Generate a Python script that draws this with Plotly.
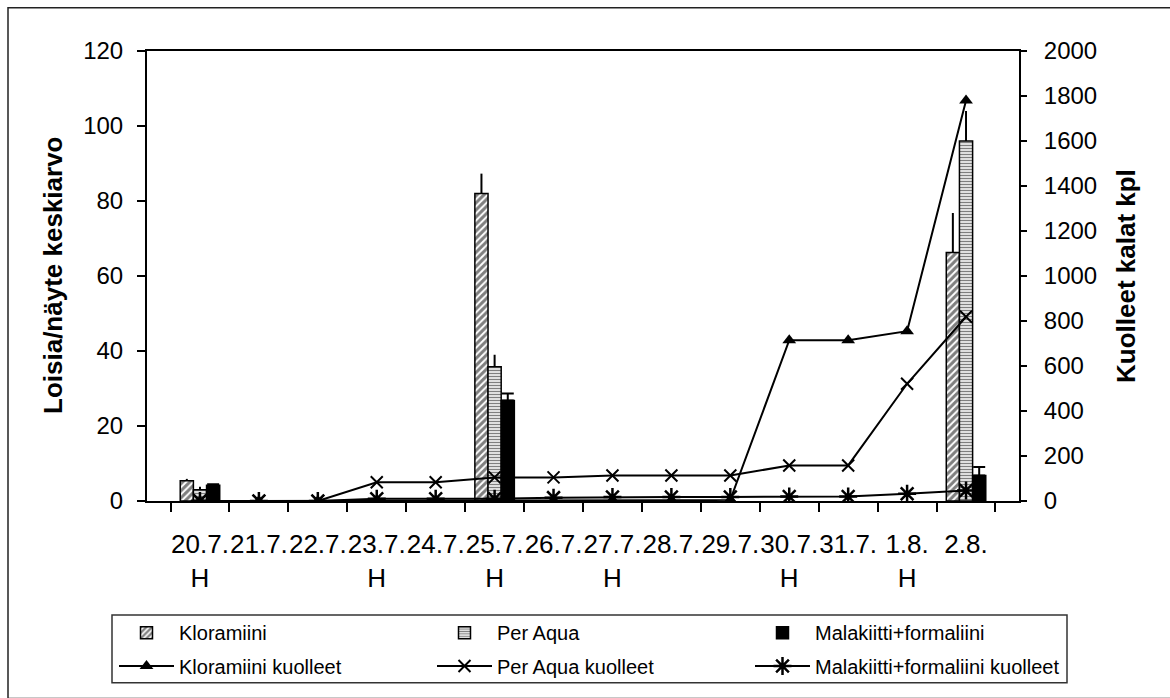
import plotly.graph_objects as go

categories = ["20.7.<br>H", "21.7.", "22.7.", "23.7.<br>H", "24.7.", "25.7.<br>H", "26.7.",
              "27.7.<br>H", "28.7.", "29.7.", "30.7.<br>H", "31.7.", "1.8.<br>H", "2.8."]

klor = [5.4, None, None, None, None, 82, None, None, None, None, None, None, None, 66.3]
klor_err = [0.5, 0, 0, 0, 0, 5.3, 0, 0, 0, 0, 0, 0, 0, 10.5]
peraqua = [3.0, None, None, None, None, 35.8, None, None, None, None, None, None, None, 96]
peraqua_err = [0.8, 0, 0, 0, 0, 3.2, 0, 0, 0, 0, 0, 0, 0, 8]
mala = [4.2, None, None, None, None, 26.8, None, None, None, None, None, None, None, 6.8]
mala_err = [0.3, 0, 0, 0, 0, 1.9, 0, 0, 0, 0, 0, 0, 0, 2.3]

klor_dead = [0, 0, 0, 2, 2, 3, 3, 3, 3, 5, 715, 715, 755, 1780]
peraqua_dead = [0, 0, 0, 83, 83, 105, 105, 113, 113, 113, 158, 158, 521, 819]
mala_dead = [0, 0, 0, 10, 10, 10, 15, 18, 18, 18, 20, 20, 32, 47]

FONT = "Liberation Sans, Arial, sans-serif"
zeros = [0] * len(categories)

fig = go.Figure()

def err(arr, cap):
    return dict(type="data", symmetric=False, array=arr, arrayminus=zeros,
                color="black", thickness=2, width=cap)

fig.add_trace(go.Bar(name="Kloramiini", x=categories, y=klor, yaxis="y", legend="legend",
                     marker=dict(color="white", line=dict(color="black", width=1.5),
                                 pattern=dict(shape="/", fgcolor="black", bgcolor="white",
                                              size=5, solidity=0.6)),
                     error_y=err(klor_err, 0)))
fig.add_trace(go.Bar(name="Per Aqua", x=categories, y=peraqua, yaxis="y", legend="legend",
                     marker=dict(color="white", line=dict(color="black", width=1.5),
                                 pattern=dict(shape="-", fgcolor="black", bgcolor="white",
                                              size=3, solidity=0.5)),
                     error_y=err(peraqua_err, 0)))
fig.add_trace(go.Bar(name="Malakiitti+formaliini", x=categories, y=mala, yaxis="y", legend="legend",
                     marker=dict(color="black", line=dict(color="black", width=1.5)),
                     error_y=err(mala_err, 6)))

fig.add_trace(go.Scatter(name="Kloramiini kuolleet", x=categories, y=klor_dead, yaxis="y2",
                         legend="legend2", mode="lines+markers", line=dict(color="black", width=2),
                         marker=dict(symbol="triangle-up", size=12, color="black")))
fig.add_trace(go.Scatter(name="Per Aqua kuolleet", x=categories, y=peraqua_dead, yaxis="y2",
                         legend="legend2", mode="lines+markers", line=dict(color="black", width=2),
                         marker=dict(symbol="x-thin-open", size=12, color="black",
                                     line=dict(color="black", width=2))))
fig.add_trace(go.Scatter(name="Malakiitti+formaliini kuolleet", x=categories, y=mala_dead, yaxis="y2",
                         legend="legend2", mode="lines+markers", line=dict(color="black", width=2),
                         marker=dict(symbol="asterisk-open", size=15, color="black",
                                     line=dict(color="black", width=2.5))))

L, R, T, B = 147, 151, 51, 189
W, H = 1170, 698
pw, ph = W - L - R, H - T - B

def px(x):
    return (x - L) / pw

def py(y):
    return (H - B - y) / ph

leg_common = dict(orientation="h", xanchor="left", yanchor="middle",
                  bgcolor="rgba(0,0,0,0)", borderwidth=0,
                  font=dict(family=FONT, size=20, color="black"),
                  entrywidth=248, entrywidthmode="pixels", itemwidth=55, tracegroupgap=0)

fig.update_layout(
    width=W, height=H,
    margin=dict(l=L, r=R, t=T, b=B, pad=0),
    paper_bgcolor="white", plot_bgcolor="white",
    font=dict(family=FONT, color="black", size=24),
    barmode="group", bargap=0.33, bargroupgap=0,
    showlegend=True,
    legend=dict(x=px(114), y=py(643), **leg_common),
    legend2=dict(x=px(114), y=py(677), **leg_common),
    xaxis=dict(type="category", tickson="boundaries", ticks="outside", ticklen=9,
               tickwidth=1.5, tickcolor="black", showline=True, linecolor="black",
               linewidth=2, mirror=True, showgrid=False, zeroline=False, tickangle=0,
               tickfont=dict(family=FONT, size=26, color="black"),
               ticklabelstandoff=19),
    xaxis2=dict(overlaying="x", range=[-0.5, 13.5], tickmode="array",
                tickvals=[i - 0.5 for i in range(15)], ticks="inside", ticklen=8,
                tickwidth=1.5, tickcolor="black", showticklabels=False, showline=False,
                showgrid=False, zeroline=False, anchor="y"),
    yaxis=dict(range=[0, 120], dtick=20, ticks="outside", ticklen=8, tickwidth=1.5,
               tickcolor="black", showline=True, linecolor="black", linewidth=2,
               showgrid=False, zeroline=False,
               tickfont=dict(family=FONT, size=24, color="black"),
               ticklabelstandoff=9),
    yaxis2=dict(range=[0, 2000], dtick=200, overlaying="y", side="right", ticks="outside",
                ticklen=6, tickwidth=1.5, tickcolor="black", showline=True,
                linecolor="black", linewidth=2, showgrid=False, zeroline=False,
                tickfont=dict(family=FONT, size=24, color="black"),
                ticklabelstandoff=12),
    yaxis3=dict(range=[0, 120], dtick=20, overlaying="y", side="left", ticks="inside",
                ticklen=8, tickwidth=1.5, tickcolor="black", showticklabels=False,
                showline=False, showgrid=False, zeroline=False),
    yaxis4=dict(range=[0, 2000], dtick=200, overlaying="y", side="right", ticks="inside",
                ticklen=8, tickwidth=1.5, tickcolor="black", showticklabels=False,
                showline=False, showgrid=False, zeroline=False),
)

fig.add_annotation(text="<b>Loisia/näyte keskiarvo</b>", textangle=-90, xref="paper",
                   yref="paper", x=px(53), y=0.5, xanchor="center", yanchor="middle",
                   showarrow=False, font=dict(family=FONT, size=26, color="black"))
fig.add_annotation(text="<b>Kuolleet kalat kpl</b>", textangle=-90, xref="paper",
                   yref="paper", x=px(1126), y=0.5, xanchor="center", yanchor="middle",
                   showarrow=False, font=dict(family=FONT, size=26, color="black"))

# legend frame
fig.add_shape(type="rect", xref="paper", yref="paper", x0=px(112), x1=px(1067),
              y0=py(694), y1=py(625), line=dict(color="#333333", width=1.5),
              fillcolor="white", layer="below")
# outer chart frame (right/bottom edges fall outside the picture)
fig.add_shape(type="rect", xref="paper", yref="paper", x0=px(8), x1=px(1180),
              y0=py(710), y1=py(7), line=dict(color="#222222", width=1.5), layer="below")

fig.write_html("out.html")
